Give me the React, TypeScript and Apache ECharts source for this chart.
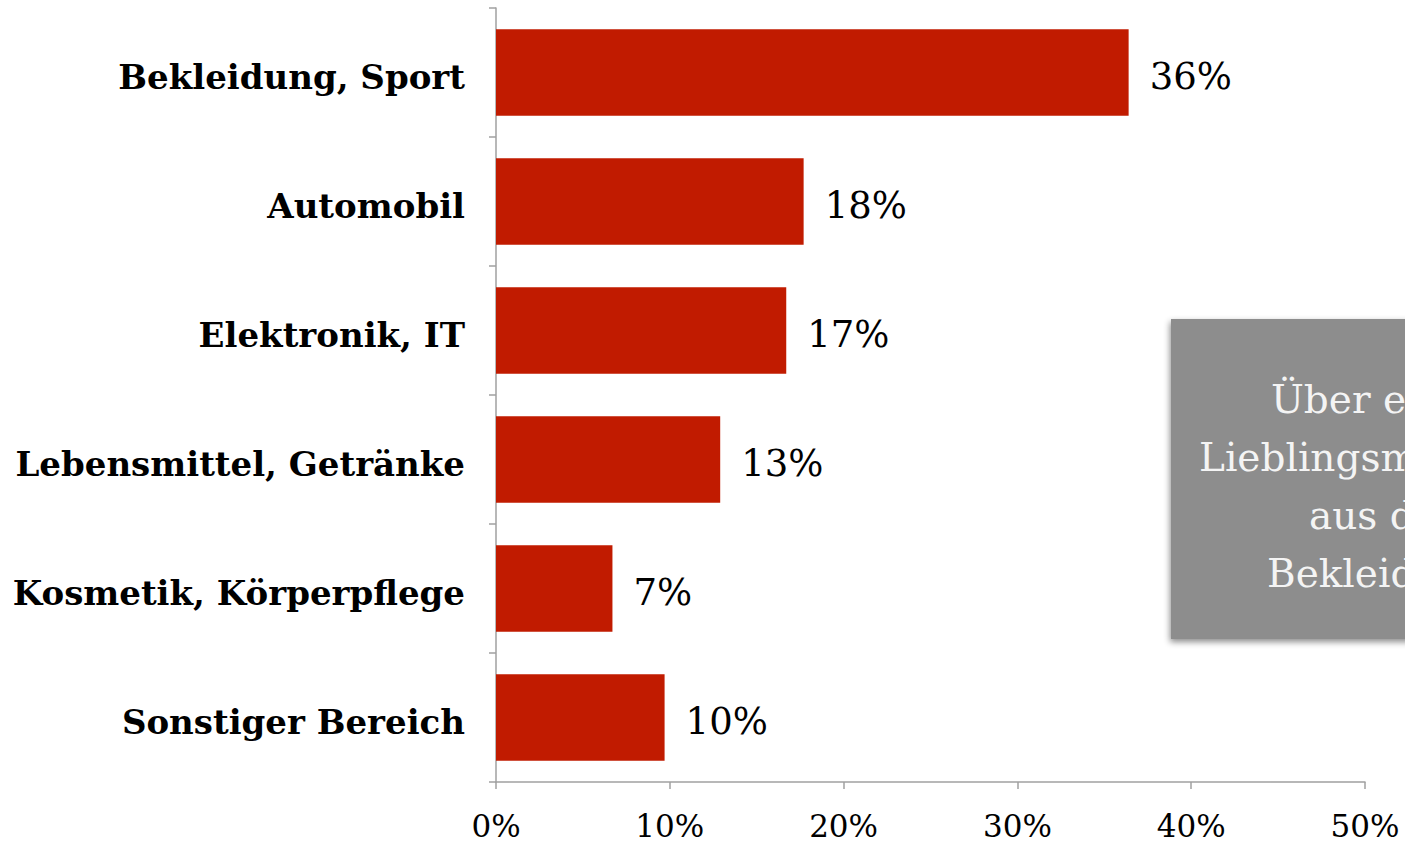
import React, { useEffect, useRef } from "react";
import * as echarts from "echarts";

const categories = [
  "Bekleidung, Sport",
  "Automobil",
  "Elektronik, IT",
  "Lebensmittel, Getränke",
  "Kosmetik, Körperpflege",
  "Sonstiger Bereich",
];
const values = [36.4, 17.7, 16.7, 12.9, 6.7, 9.7];
const xTicks = [0, 10, 20, 30, 40, 50];
const noteLines = ["Über ein Drittel der", "Lieblingsmarken stammen", "aus dem Bereich", "Bekleidung, Sport"];

const FONT = "'DejaVu Serif', 'Liberation Serif', serif";

export default function App() {
  const ref = useRef<HTMLDivElement>(null);
  useEffect(() => {
    if (!ref.current) return;
    const chart = echarts.init(ref.current, null, { renderer: "svg" });
    const lineStarts = [1271, 1199, 1309, 1267];
    chart.setOption({
      animation: false,
      backgroundColor: "#ffffff",
      grid: { left: 496, right: 40, top: 8, bottom: 61, containLabel: false },
      xAxis: {
        type: "value",
        min: xTicks[0],
        max: xTicks[xTicks.length - 1],
        interval: 10,
        splitLine: { show: false },
        axisLine: { show: true, lineStyle: { color: "#a0a0a0", width: 1.5 } },
        axisTick: { show: true, length: 7, lineStyle: { color: "#a0a0a0", width: 1.5 } },
        axisLabel: {
          formatter: (v: number) => `${v}%`,
          fontFamily: FONT,
          fontSize: 31,
          color: "#000",
          margin: 28,
        },
      },
      yAxis: {
        type: "category",
        data: categories,
        inverse: true,
        axisLine: { show: true, lineStyle: { color: "#a0a0a0", width: 1.5 } },
        axisTick: { show: true, length: 7, lineStyle: { color: "#a0a0a0", width: 1.5 } },
        axisLabel: {
          formatter: (v: string) => `{c|${v}}`,
          margin: 31,
          rich: {
            c: {
              fontFamily: FONT,
              fontWeight: "bold",
              fontSize: 34,
              color: "#000",
              padding: [8, 0, 0, 0],
            },
          },
        },
      },
      series: [
        {
          type: "bar",
          data: values,
          barCategoryGap: "33%",
          itemStyle: { color: "#c11b00" },
          label: {
            show: true,
            position: "right",
            distance: 21,
            offset: [0, 4],
            formatter: (p: any) => `${Math.round(p.value)}%`,
            fontFamily: FONT,
            fontSize: 37,
            color: "#000",
          },
        },
      ],
      graphic: [
        {
          type: "rect",
          shape: { x: 1171, y: 319, width: 300, height: 320 },
          style: {
            fill: "#8d8d8d",
            shadowBlur: 6,
            shadowOffsetX: -1,
            shadowOffsetY: 3,
            shadowColor: "rgba(0,0,0,0.45)",
          },
          z: 10,
        },
        ...noteLines.map((t, i) => ({
          type: "text",
          x: lineStarts[i],
          y: 399 + i * 58,
          z: 11,
          style: {
            text: t,
            fill: "#f4f4f4",
            fontFamily: FONT,
            fontSize: 39,
            textAlign: "left",
            textVerticalAlign: "middle",
          },
        })),
      ],
    });
    return () => chart.dispose();
  }, []);
  return (
    <div
      ref={ref}
      style={{ position: "fixed", left: 0, top: 0, width: 1405, height: 843 }}
    />
  );
}
